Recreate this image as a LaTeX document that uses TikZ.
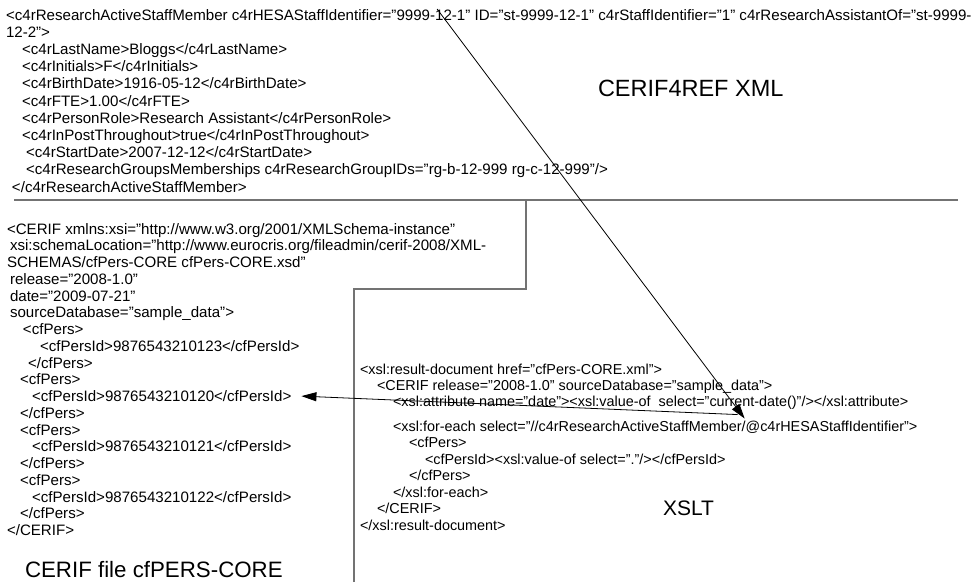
\documentclass[tikz,border=0pt]{standalone}
\usepackage{fontspec}
\setmainfont{Liberation Sans}
\usetikzlibrary{arrows.meta}
\begin{document}
\begin{tikzpicture}[x=1pt,y=-1pt,
  txt/.style={anchor=base west,inner sep=0pt,outer sep=0pt,font=\fontsize{15.1}{17}\selectfont,text=black},
  xtxt/.style={anchor=base west,inner sep=0pt,outer sep=0pt,font=\fontsize{14.4}{17}\selectfont,text=black},
  big/.style={anchor=base west,inner sep=0pt,outer sep=0pt,font=\fontsize{22.3}{26}\selectfont,text=black},
  frame/.style={draw=black!55,line width=1.4pt},
  conn/.style={draw=black,line width=0.8pt,-{Triangle[length=15pt,width=9pt]}}]
\useasboundingbox (0,0) rectangle (978,582);
\fill[white] (0,0) rectangle (978,582);
% separators
\draw[frame] (14,200) -- (958,200);
\draw[frame] (354,582) -- (354,289) -- (526,289) -- (526,200);
% top block
\node[txt] (l1a) at (6,20) {<c4rResearchActiveStaffMember c4rHESAStaffIdentifier="9999-};
\node[txt] (l1b) at (l1a.base east) {12-1" ID="st-9999-12-1" c4rStaffIdentifier="1" c4rResearchAssistantOf="st-9999-};
\node[txt] (l2) at (6,37.2) {12-2">};
\node[txt] (l3) at (22,54.4) {<c4rLastName>Bloggs</c4rLastName>};
\node[txt] (l4) at (22,71.6) {<c4rInitials>F</c4rInitials>};
\node[txt] (l5) at (22,88.8) {<c4rBirthDate>1916-05-12</c4rBirthDate>};
\node[txt] (l6) at (22,106) {<c4rFTE>1.00</c4rFTE>};
\node[txt] (l7) at (22,123.2) {<c4rPersonRole>Research Assistant</c4rPersonRole>};
\node[txt] (l8) at (22,140.4) {<c4rInPostThroughout>true</c4rInPostThroughout>};
\node[txt] (l9) at (26,157.6) {<c4rStartDate>2007-12-12</c4rStartDate>};
\node[txt] (l10) at (26,174.8) {<c4rResearchGroupsMemberships c4rResearchGroupIDs="rg-b-12-999 rg-c-12-999"/>};
\node[txt] (l11) at (12,192) {</c4rResearchActiveStaffMember>};
\node[big,font=\fontsize{23.5}{27}\selectfont] (t1) at (598,96) {CERIF4REF XML};
% lower left block
\node[txt] (c0) at (7,234) {<CERIF xmlns:xsi="http://www.w3.org/2001/XMLSchema-instance"};
\node[txt] (c1) at (10,250.75) {xsi:schemaLocation="http://www.eurocris.org/fileadmin/cerif-2008/XML-};
\node[txt] (c2) at (7,267.5) {SCHEMAS/cfPers-CORE cfPers-CORE.xsd"};
\node[txt] (c3) at (10,284.25) {release="2008-1.0"};
\node[txt] (c4) at (10,301) {date="2009-07-21"};
\node[txt] (c5) at (10,317.75) {sourceDatabase="sample\_data">};
\node[txt] (c6) at (23,334.5) {<cfPers>};
\node[txt] (c7) at (40,351.25) {<cfPersId>9876543210123</cfPersId>};
\node[txt] (c8) at (28,368) {</cfPers>};
\node[txt] (c9) at (20,384.75) {<cfPers>};
\node[txt] (c10) at (32,401.5) {<cfPersId>9876543210120</cfPersId>};
\node[txt] (c11) at (20,418.25) {</cfPers>};
\node[txt] (c12) at (20,435) {<cfPers>};
\node[txt] (c13) at (32,451.75) {<cfPersId>9876543210121</cfPersId>};
\node[txt] (c14) at (20,468.5) {</cfPers>};
\node[txt] (c15) at (20,485.25) {<cfPers>};
\node[txt] (c16) at (32,502) {<cfPersId>9876543210122</cfPersId>};
\node[txt] (c17) at (20,518.75) {</cfPers>};
\node[txt] (c18) at (7,535.5) {</CERIF>};
\node[big] (t2) at (25,577) {CERIF file cfPERS-CORE};
% XSLT block
\node[xtxt] (x1) at (360,374) {<xsl:result-document href="cfPers-CORE.xml">};
\node[xtxt] (x2) at (377,390) {<CERIF release="2008-1.0" sourceDatabase="sample\_data">};
\node[xtxt] (x3) at (393,406) {<xsl:attribute name="date"><xsl:value-of \ select="current-date()"/></xsl:attribute>};
\node[xtxt] (x4a) at (393,431) {<xsl:for-each select="//c4rResearchActiveStaffMember/};
\node[xtxt] (x4b) at (x4a.base east) {@c4rHESAStaffIdentifier">};
\node[xtxt] (x5) at (409,447.5) {<cfPers>};
\node[xtxt] (x6) at (425,464) {<cfPersId><xsl:value-of select="."/></cfPersId>};
\node[xtxt] (x7) at (409,480.5) {</cfPers>};
\node[xtxt] (x8) at (393,497) {</xsl:for-each>};
\node[xtxt] (x9) at (377,513.5) {</CERIF>};
\node[xtxt] (x10) at (360,530) {</xsl:result-document>};
\node[big,font=\fontsize{21}{25}\selectfont] (t3) at (663,515) {XSLT};
% connectors
\coordinate (a1s) at ([xshift=2pt]l1b.north west);
\coordinate (a1e) at ([xshift=-1pt,yshift=2pt]x4b.north west);
\coordinate (a2s) at ([xshift=-8pt,yshift=6pt]x4b.north west);
\draw[conn] (a1s) -- (a1e);
\draw[conn] (a2s) -- ([xshift=10pt]c10.east);
\end{tikzpicture}
\end{document}
